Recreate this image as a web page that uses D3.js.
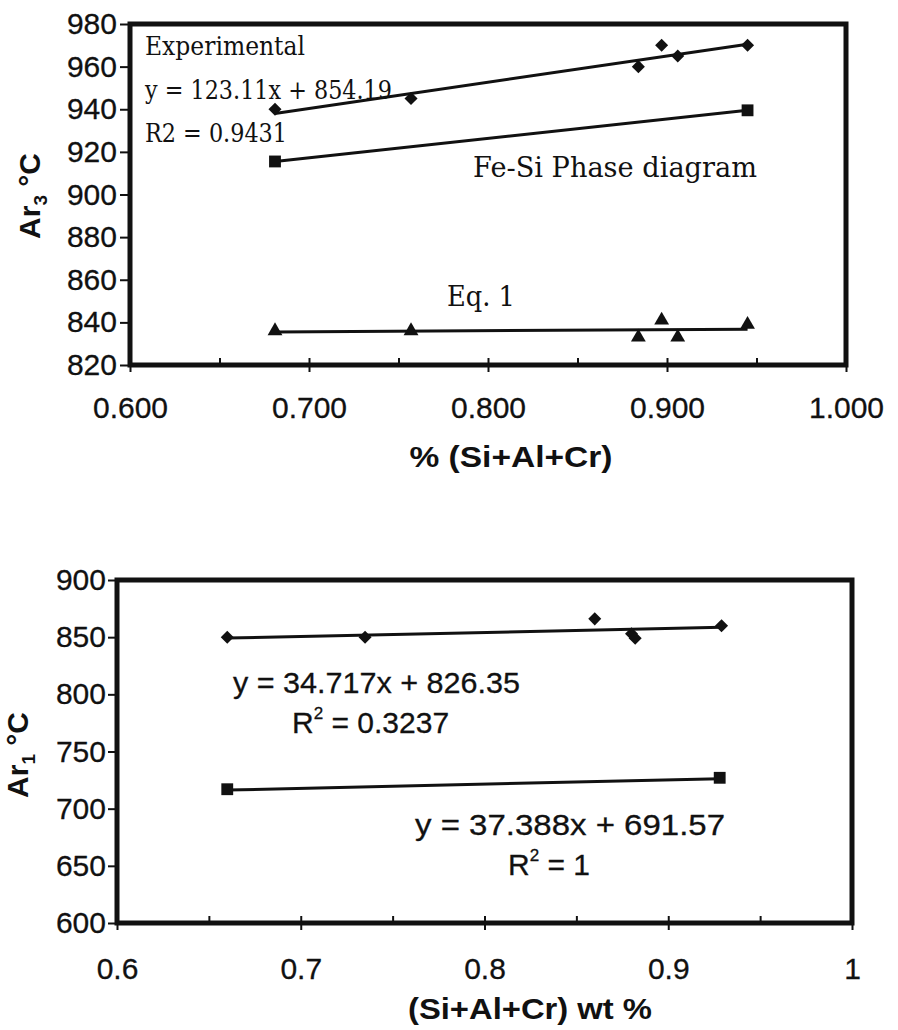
<!DOCTYPE html>
<html>
<head>
<meta charset="utf-8">
<script src="https://cdn.jsdelivr.net/npm/d3@7"></script>
<style>
  body { margin: 0; background: #fff; }
  svg { display: block; }
  .tick text { font-family: "Liberation Sans", Arial, sans-serif; font-size: 30px; fill: #111; stroke: #111; stroke-width: 0.3; }
  .tick line { stroke: #111; stroke-width: 2; }
  .axis-title { font-family: "Liberation Sans", Arial, sans-serif; font-size: 30px; font-weight: bold; fill: #111; }
  .note-serif { font-family: "DejaVu Serif", "Liberation Serif", serif; font-size: 26px; fill: #111; }
  .note-serif.big { font-size: 27px; }
  .note-sans { font-family: "Liberation Sans", Arial, sans-serif; font-size: 30px; fill: #111; stroke: #111; stroke-width: 0.3; }
  .frame { fill: none; stroke: #111; stroke-width: 5; }
  .fit-line { fill: none; stroke: #111; stroke-width: 3; }
  .marker { fill: #111; }
</style>
</head>
<body>
<div id="chart"></div>
<script>
// ---- top panel: Ar3 vs % (Si+Al+Cr) ----
const ar3X = [0.681, 0.757, 0.884, 0.897, 0.906, 0.945];
const ar3Experimental = [940, 945, 960, 970, 965, 970];
const ar3Eq1 = [836, 836, 833, 841, 833, 839];
const ar3PhaseX = [0.681, 0.945];
const ar3Phase = [915.5, 939.5];
const ar3ExpFit = [123.11, 854.19]; // slope, intercept
const ar3XTicks = [0.6, 0.7, 0.8, 0.9, 1.0];
const ar3XMinor = [0.65, 0.75, 0.85, 0.95];
const ar3YTicks = [820, 840, 860, 880, 900, 920, 940, 960, 980];

// ---- bottom panel: Ar1 vs (Si+Al+Cr) wt % ----
const ar1DiamondX = [0.660, 0.735, 0.860, 0.880, 0.882, 0.929];
const ar1Diamond = [850, 850, 866, 853, 849, 860];
const ar1SquareX = [0.660, 0.928];
const ar1Square = [717, 727];
const ar1DiamondFit = [34.717, 826.35];
const ar1SquareFit = [37.388, 691.57];
const ar1XTicks = [0.6, 0.7, 0.8, 0.9, 1.0];
const ar1XMinor = [0.65, 0.75, 0.85, 0.95];
const ar1YTicks = [600, 650, 700, 750, 800, 850, 900];

const width = 898;
const height = 1030;

const svg = d3.select("#chart").append("svg")
  .attr("width", width)
  .attr("height", height)
  .attr("viewBox", [0, 0, width, height]);

// least squares line through the points -> [slope, intercept]
function regress(xs, ys) {
  const mx = d3.mean(xs), my = d3.mean(ys);
  const sxy = d3.sum(xs, (d, i) => (d - mx) * (ys[i] - my));
  const sxx = d3.sum(xs, (d) => (d - mx) ** 2);
  const slope = sxy / sxx;
  return [slope, my - slope * mx];
}

const symbols = {
  diamond: { type: d3.symbolSquare, size: 85, rotate: 45 },
  square: { type: d3.symbolSquare, size: 140, rotate: 0 },
  triangle: { type: d3.symbolTriangle, size: 95, rotate: 0 },
};

function drawPanel(cfg) {
  const x = d3.scaleLinear().domain(cfg.xDomain).range([cfg.left, cfg.right]);
  const y = d3.scaleLinear().domain(cfg.yDomain).range([cfg.bottom, cfg.top]);
  const g = svg.append("g");

  // minor x ticks, inside the plot
  g.append("g")
    .attr("transform", `translate(0,${cfg.bottom})`)
    .call(d3.axisBottom(x).tickValues(cfg.xMinor).tickSize(-7).tickFormat(""))
    .call((g) => g.select(".domain").remove());

  // major x ticks cross the axis line
  g.append("g")
    .attr("transform", `translate(0,${cfg.bottom})`)
    .call(
      d3.axisBottom(x)
        .tickValues(cfg.xTicks)
        .tickFormat(cfg.xFormat)
        .tickSize(7)
        .tickPadding(cfg.xPad)
    )
    .call((g) => g.select(".domain").remove())
    .call((g) => g.selectAll(".tick line").attr("y1", -7));

  g.append("g")
    .attr("transform", `translate(${cfg.left},0)`)
    .call(
      d3.axisLeft(y)
        .tickValues(cfg.yTicks)
        .tickSize(cfg.yTickSize)
        .tickPadding(cfg.yPad)
    )
    .call((g) => g.select(".domain").remove());

  g.append("rect")
    .attr("class", "frame")
    .attr("x", cfg.left)
    .attr("y", cfg.top)
    .attr("width", cfg.right - cfg.left)
    .attr("height", cfg.bottom - cfg.top);

  const line = d3.line().x((d) => x(d[0])).y((d) => y(d[1]));

  cfg.series.forEach((s) => {
    const [lo, hi] = d3.extent(s.xs);
    const fit = s.fit || regress(s.xs, s.ys);
    g.append("path")
      .attr("class", "fit-line")
      .attr("d", line([lo, hi].map((v) => [v, fit[0] * v + fit[1]])));

    const sym = symbols[s.marker];
    g.append("g")
      .selectAll("path")
      .data(s.xs.map((v, i) => [v, s.ys[i]]))
      .join("path")
      .attr("class", "marker")
      .attr("d", d3.symbol(sym.type, sym.size))
      .attr("transform", (d) => `translate(${x(d[0])},${y(d[1])}) rotate(${sym.rotate})`);
  });

  // axis titles
  const yt = g.append("text")
    .attr("class", "axis-title")
    .attr("text-anchor", "middle")
    .attr("transform", `translate(${cfg.yTitlePos[0]},${cfg.yTitlePos[1]}) rotate(-90)`);
  yt.append("tspan").text("Ar");
  yt.append("tspan").attr("font-size", 19).attr("dy", 7).text(cfg.yTitleSub);
  yt.append("tspan").attr("dy", -7).text(" °C");

  g.append("text")
    .attr("class", "axis-title")
    .attr("text-anchor", "middle")
    .attr("x", cfg.xTitlePos[0])
    .attr("y", cfg.xTitlePos[1])
    .attr("textLength", cfg.xTitlePos[2])
    .attr("lengthAdjust", "spacingAndGlyphs")
    .text(cfg.xTitle);

  cfg.notes.forEach((n) => {
    const t = g.append("text")
      .attr("class", n.cls)
      .attr("x", n.x)
      .attr("y", n.y);
    if (n.len) t.attr("textLength", n.len).attr("lengthAdjust", "spacingAndGlyphs");
    if (n.sup) {
      t.append("tspan").text(n.text[0]);
      t.append("tspan").attr("font-size", 17).attr("dx", 0).attr("dy", -14).text(n.sup);
      t.append("tspan").attr("dy", 14).text(n.text[1]);
    } else {
      t.text(n.text);
    }
  });
}

drawPanel({
  left: 130, right: 846, top: 24, bottom: 365,
  xDomain: [0.6, 1.0], yDomain: [820, 980],
  xTicks: ar3XTicks, xMinor: ar3XMinor, yTicks: ar3YTicks,
  xFormat: d3.format(".3f"), xPad: 25,
  yTickSize: 10, yPad: 3,
  series: [
    { xs: ar3X, ys: ar3Experimental, marker: "diamond", fit: ar3ExpFit },
    { xs: ar3PhaseX, ys: ar3Phase, marker: "square" },
    { xs: ar3X, ys: ar3Eq1, marker: "triangle" },
  ],
  yTitleSub: "3", yTitlePos: [40, 196],
  xTitle: "% (Si+Al+Cr)", xTitlePos: [511, 467, 203],
  notes: [
    { cls: "note-serif", x: 145, y: 55, len: 160, text: "Experimental" },
    { cls: "note-serif", x: 145, y: 99, len: 247, text: "y = 123.11x + 854.19" },
    { cls: "note-serif", x: 145, y: 142, len: 142, text: "R2 = 0.9431" },
    { cls: "note-serif big", x: 473, y: 177, len: 284, text: "Fe-Si Phase diagram" },
    { cls: "note-serif big", x: 447, y: 306, len: 68, text: "Eq. 1" },
  ],
});

drawPanel({
  left: 117, right: 852, top: 580, bottom: 923,
  xDomain: [0.6, 1.0], yDomain: [600, 900],
  xTicks: ar1XTicks, xMinor: ar1XMinor, yTicks: ar1YTicks,
  xFormat: (d) => String(+d.toFixed(1)), xPad: 28,
  yTickSize: 9, yPad: 2,
  series: [
    { xs: ar1DiamondX, ys: ar1Diamond, marker: "diamond", fit: ar1DiamondFit },
    { xs: ar1SquareX, ys: ar1Square, marker: "square", fit: ar1SquareFit },
  ],
  yTitleSub: "1", yTitlePos: [28, 755],
  xTitle: "(Si+Al+Cr) wt %", xTitlePos: [530, 1019, 244],
  notes: [
    { cls: "note-sans", x: 233, y: 693, len: 287, text: "y = 34.717x + 826.35" },
    { cls: "note-sans", x: 292, y: 733, sup: "2", text: ["R", " = 0.3237"] },
    { cls: "note-sans", x: 415, y: 835, len: 310, text: "y = 37.388x + 691.57" },
    { cls: "note-sans", x: 508, y: 875, sup: "2", text: ["R", " = 1"] },
  ],
});
</script>
</body>
</html>
